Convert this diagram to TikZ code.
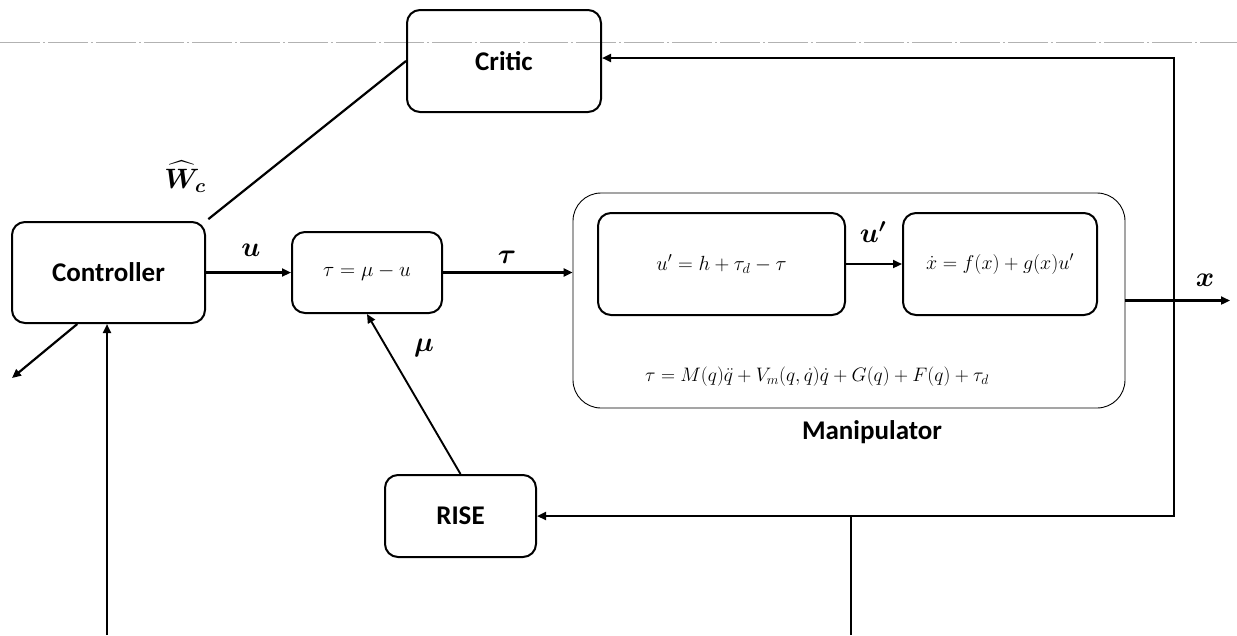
\RequirePackage{fix-cm}
\documentclass[tikz,border=0pt]{standalone}
\usepackage{amsmath,bm}
\usepackage{fontspec}
\setmainfont{Carlito}
\usetikzlibrary{arrows.meta,calc}

\tikzset{
  blk/.style={draw, line width=2pt, rounded corners=13pt, inner sep=0pt,
    align=center, font=\bfseries\fontsize{27}{30}\selectfont},
  mathblk/.style={blk, font=\fontsize{21}{25}\selectfont},
  arr/.style={line width=2.2pt, -{Triangle[length=9pt,width=8pt]}},
  wire/.style={line width=2.2pt},
  lab/.style={inner sep=0pt, font=\fontsize{28}{32}\selectfont},
  guide/.style={draw=gray!60, line width=0.8pt,
    dash pattern=on 40pt off 3pt on 2pt off 3pt}
}

\begin{document}
\begin{tikzpicture}[x=1pt, y=-1pt]
\useasboundingbox (0,0) rectangle (1237,635);

% horizontal guide line across the top
\coordinate (gl) at (0,42);
\coordinate (gr) at (1237,42);
\draw[guide] (gl) -- (gr);

% blocks
\node[blk, minimum width=194pt, minimum height=102pt] (critic) at (504,61) {Critic};
\node[blk, minimum width=193pt, minimum height=101pt] (ctrl) at (108.5,272.5) {Controller};
\node[mathblk, minimum width=150pt, minimum height=81pt] (sum) at (367,272.5) {$\tau=\mu-u$};
\node[blk, minimum width=151pt, minimum height=82pt] (rise) at (460.5,516) {RISE};

% manipulator group
\node[draw, line width=0.9pt, rounded corners=28pt, minimum width=552pt,
  minimum height=215pt] (manip) at (849,300.5) {};
\node[mathblk, font=\fontsize{20.5}{24}\selectfont, minimum width=247pt,
  minimum height=102pt] (dyn) at (721.5,264) {$u'=h+\tau_d-\tau$};
\node[mathblk, font=\fontsize{20}{24}\selectfont, minimum width=194pt,
  minimum height=102pt] (plant) at (1000,264) {$\dot x=f(x)+g(x)u'$};
\node[inner sep=0pt, font=\fontsize{19.5}{23}\selectfont] (eq) at (817,377)
  {$\tau=M(q)\ddot q+V_m(q,\dot q)\dot q+G(q)+F(q)+\tau_d$};
\node[inner sep=0pt, font=\bfseries\fontsize{27}{30}\selectfont] (mlabel) at (872,432) {Manipulator};

% forward path
\draw[arr] (ctrl.east) -- (sum.west);
\node[lab] (lu) at (251,250) {$\bm{u}$};
\draw[arr] (sum.east) -- (sum.east -| manip.west);
\node[lab] (ltau) at (507,257) {$\bm{\tau}$};
\draw[arr, line width=1.9pt] (rise.north) -- (sum.south);
\node[lab] (lmu) at (424,348) {$\bm{\mu}$};
\draw[arr] (dyn.east) -- (plant.west);
\node[lab] (lup) at (873,232) {$\bm{u'}$};

% output and feedback
\coordinate (xout) at (1230,300.5);
\draw[arr] (manip.east) -- (xout);
\node[lab] (lx) at (1205,280) {$\bm{x}$};
\coordinate (jn) at (1174,300.5);
\draw[arr] (jn) |- ($(critic.east)+(0,-3)$);
\draw[arr] (jn) |- (rise.east);

% critic weights to controller
\draw[wire, shorten <=3pt] (ctrl.north east) -- (critic.west);
\node[lab] (lw) at (185,177) {$\bm{\widehat{W}_c}$};

% bottom lines
\coordinate (b1) at (107,635);
\draw[arr] (b1) -- (b1 |- ctrl.south);
\coordinate (b2) at (851,635);
\draw[line width=1.8pt] (b2) -- (b2 |- rise.east);

% controller output
\coordinate (cout) at (12,378);
\draw[arr] ($(ctrl.south west)!0.34!(ctrl.south east)$) -- (cout);
\end{tikzpicture}
\end{document}
